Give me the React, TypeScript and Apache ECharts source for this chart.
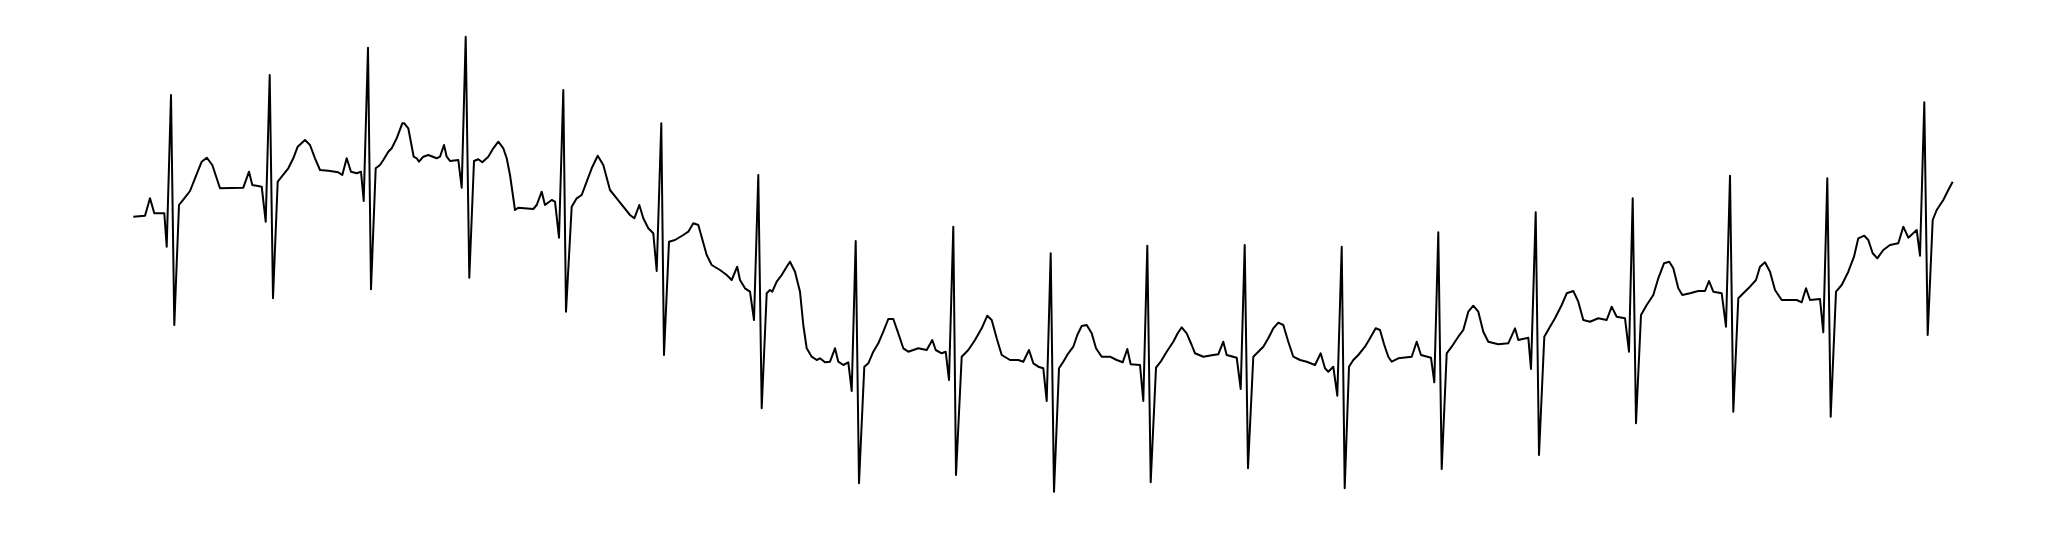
import React, { useEffect, useRef } from "react";
import * as echarts from "echarts";

// Sample position (horizontal) of each reading
const ecgTime: number[] = [
  133.3, 145, 150, 154.3, 164.3, 166.7, 171, 174.3, 179, 184.3, 190, 195, 201.7, 206.7, 212.3, 220,
  243.3, 249, 252.3, 261.7, 265.7, 269.7, 273, 277.7, 281.7, 288.3, 293.3, 297.7, 305, 310, 315, 320,
  328.3, 338.3, 342.3, 346.7, 351, 356.7, 361, 363.7, 368, 371, 375.7, 380, 383.3, 388.3, 391.7, 396.7,
  402.3, 404.3, 408.3, 413.7, 416.7, 419, 423.3, 428.3,
  436.7, 440, 444, 446.7, 450, 458.3, 461.7, 465.7, 469.3, 474, 478.3, 482.3, 488.3, 493.3, 498.3, 503.3,
  506.7, 510, 515, 518.3, 533.3, 536.7, 541.7, 545, 551.7, 555, 559, 563.3, 566, 571.7, 576.7, 581.7,
  586.7, 591.7, 597.7, 603.3, 610, 616.7, 623.3, 630, 634.3, 639.3, 643.3, 648.3, 653.3, 656.7, 661.3, 664,
  669, 675, 683.3, 688.3, 693.3, 698.3, 706.7, 711.7, 720, 726.7, 731.7, 737.2, 740, 745, 750, 754,
  758.3, 761.7, 766.7, 770, 772.3, 776.7, 781.7, 786.7, 790, 795, 800, 803.3, 806.7, 811.7, 816.7, 820,
  825, 830, 835, 838.3, 843.3, 848.3, 851.7, 855.7, 859, 864.3, 868.3, 873.3, 878.3, 883.3, 888.3, 893.3,
  898.3, 903.3, 908.3, 918.3, 926.7, 932.3, 935.7, 941.7, 945.7, 949, 953.3, 956, 961.7, 968.3, 975, 981.7,
  987.3, 991.7, 996.7, 1001.7, 1010, 1018.3, 1023.3, 1029, 1033.3, 1038.3, 1043.3, 1046.7, 1050.7, 1054,
  1059, 1063.3, 1068.3, 1073.3, 1077.3, 1081.7, 1086.7, 1091.7, 1096, 1101.7, 1110, 1116.7, 1122.7, 1127.3,
  1130.7, 1140, 1143.3, 1147.3, 1150.7, 1156, 1160.7, 1166.7, 1173.3, 1177.7, 1181.7, 1186.7, 1191.7, 1195,
  1203.3, 1213.3, 1218.3, 1223.3, 1226.7, 1236.7, 1240.7, 1244.7, 1248, 1253.3, 1258.3, 1263.3, 1268.3,
  1273.3, 1278.3, 1283.3, 1288.3, 1293.3, 1300, 1306.7, 1315, 1320.7, 1325, 1328.3, 1333.3, 1337.3, 1341.7,
  1344.7, 1349, 1353.3, 1358.3, 1365, 1370, 1375.7, 1380, 1384.3, 1388.3, 1391.7, 1398.3, 1411.7, 1416.7,
  1421, 1431, 1434.3, 1438.3, 1441.7, 1446.7, 1451.7, 1458.3, 1463.3, 1468.3, 1473.3, 1478.3, 1483.3,
  1488.3, 1498.3, 1508.3, 1515, 1518.3, 1528.3, 1531, 1535.7, 1539, 1544.3, 1550, 1555, 1561.7, 1566.7,
  1573.3, 1578.3, 1583.3, 1590, 1598.3, 1606.7, 1611.7, 1616.7, 1625, 1629, 1632.7, 1636, 1641, 1646.7,
  1653.3, 1658.3, 1664, 1669.3, 1673.3, 1678.3, 1682.3, 1690, 1698.3, 1705, 1709, 1713.3, 1721.7, 1726,
  1730, 1733.3, 1738.3, 1743.3, 1750, 1756, 1760, 1765, 1770, 1775, 1781.7, 1788.3, 1796.7, 1801.7, 1806,
  1810, 1820, 1823.3, 1827.3, 1830.7, 1836, 1841.7, 1848.3, 1854, 1858.3, 1864.3, 1868.3, 1872.7, 1877.3,
  1883.3, 1890, 1898.3, 1903.3, 1908.3, 1916.7, 1920, 1924.3, 1927.7, 1932.7, 1936.7, 1943.3, 1948.3, 1952.7,
];

// Signal depth of each reading (larger = lower on the trace)
const ecgValue: number[] = [
  216.7, 215.7, 198.3, 213.3, 213.3, 246.7, 95, 325, 205, 198.3, 191, 178.3, 161.7, 157.7, 165, 188.3,
  187.7, 171.7, 185, 186.7, 221.7, 75, 298.3, 181.7, 176.7, 168.3, 158.3, 146.7, 140, 145, 158.3, 170,
  170.7, 172.3, 175, 158.3, 171.7, 173.3, 171.7, 201, 47.7, 289.3, 168.3, 165, 160, 151.7, 148.3, 138.3,
  123.3, 123.3, 128.3, 156.7, 158.3, 161.7, 156.7, 155,
  158.3, 156.7, 145, 156.7, 161, 160, 187.7, 36.7, 277.7, 161, 159.3, 162.3, 156.7, 148.3, 141.7, 148.3,
  158.3, 175, 210, 207.7, 209, 205, 191.7, 205, 200, 201.7, 237.7, 90, 311.7, 206.7, 198.3, 195,
  181.7, 168.3, 155.7, 165, 190, 198.3, 206.7, 215, 218.3, 205, 218.3, 228.3, 233.3, 271, 123.3, 355,
  241.7, 240, 235, 231.7, 223.3, 225, 255, 265, 270, 275, 280, 266.7, 280, 288.3, 291.7, 320,
  175, 408.3, 293.3, 290, 291.7, 281.7, 275, 266.7, 261.7, 271.7, 291.7, 325, 348.3, 356.7, 360, 358.3,
  362.3, 361.7, 348.3, 361.7, 365, 362.3, 391, 241, 483.3, 366.7, 363.3, 351.7, 343.3, 331.7, 319, 319,
  333.3, 348.3, 351.7, 348.3, 350, 340, 350, 353.3, 351.7, 380, 226.7, 475, 356.7, 350, 340, 328.3,
  315.7, 320, 338.3, 355, 360, 360, 361.7, 350, 363.3, 366.7, 368.3, 401, 253.3, 491.7,
  368.3, 361.7, 353.3, 346.7, 335, 326, 325, 333.3, 348.3, 356.7, 356.7, 360, 362.3, 349,
  364.3, 365, 401, 245.7, 482.3, 367.7, 361.7, 351.7, 341.7, 333.3, 327.3, 333.3, 345, 353.3,
  356.7, 355, 354.3, 341.7, 355, 357.7, 389, 245, 468.3, 356.7, 351.7, 346.7, 338.3,
  328.3, 322.7, 325, 341.7, 356.7, 360, 361.7, 365, 353.3, 368.3, 371.7, 366.7, 395.7, 246.7,
  488.3, 366.7, 360, 355, 346.7, 338.3, 328.3, 330, 345, 356.7, 361.7, 358.3, 356.7, 341.7,
  355, 357.7, 382.3, 232.3, 469, 353.3, 346.7, 336.7, 330, 311.7, 305.7, 311.7, 331.7,
  341.7, 344.3, 343.3, 328.3, 340, 337.7, 369, 212.3, 455, 336.7, 326.7, 318.3, 305, 293.3,
  291, 301.7, 320, 321.7, 318.3, 320, 306.7, 316.7, 318.3, 351.7, 198.3, 423.3, 315, 305,
  295, 278.3, 263.3, 261.7, 268.3, 288.3, 295, 293.3, 291, 291, 281, 291.7, 293.3, 326.7,
  175.7, 411.7, 298.3, 293.3, 286.7, 280, 266.7, 262.3, 271.7, 290, 300, 300, 300, 302.3, 288.3,
  300, 299, 332.3, 178.3, 416.7, 291.7, 285, 271.7, 256.7, 238.3, 235.7, 240, 253.3, 258.3,
  250, 245, 243.3, 226.7, 237.7, 230, 255.7, 102.3, 335, 220, 210, 200, 190, 181.7,
];

const W = 2046;
const H = 538;

export default function App() {
  const ref = useRef<HTMLDivElement>(null);

  useEffect(() => {
    if (!ref.current) return;
    const chart = echarts.init(ref.current, null, { renderer: "svg" });
    const data = ecgTime.map((t, i) => [t, ecgValue[i]]);
    chart.setOption({
      animation: false,
      backgroundColor: "#ffffff",
      grid: { left: 0, right: 0, top: 0, bottom: 0 },
      xAxis: { type: "value", min: 0, max: W, show: false },
      yAxis: { type: "value", min: 0, max: H, inverse: true, show: false },
      series: [
        {
          type: "line",
          data,
          showSymbol: false,
          smooth: false,
          lineStyle: { color: "#000000", width: 2, join: "round" },
        },
      ],
    });
    return () => chart.dispose();
  }, []);

  return (
    <div
      ref={ref}
      style={{ position: "fixed", left: 0, top: 0, width: W, height: H, background: "#fff" }}
    />
  );
}
